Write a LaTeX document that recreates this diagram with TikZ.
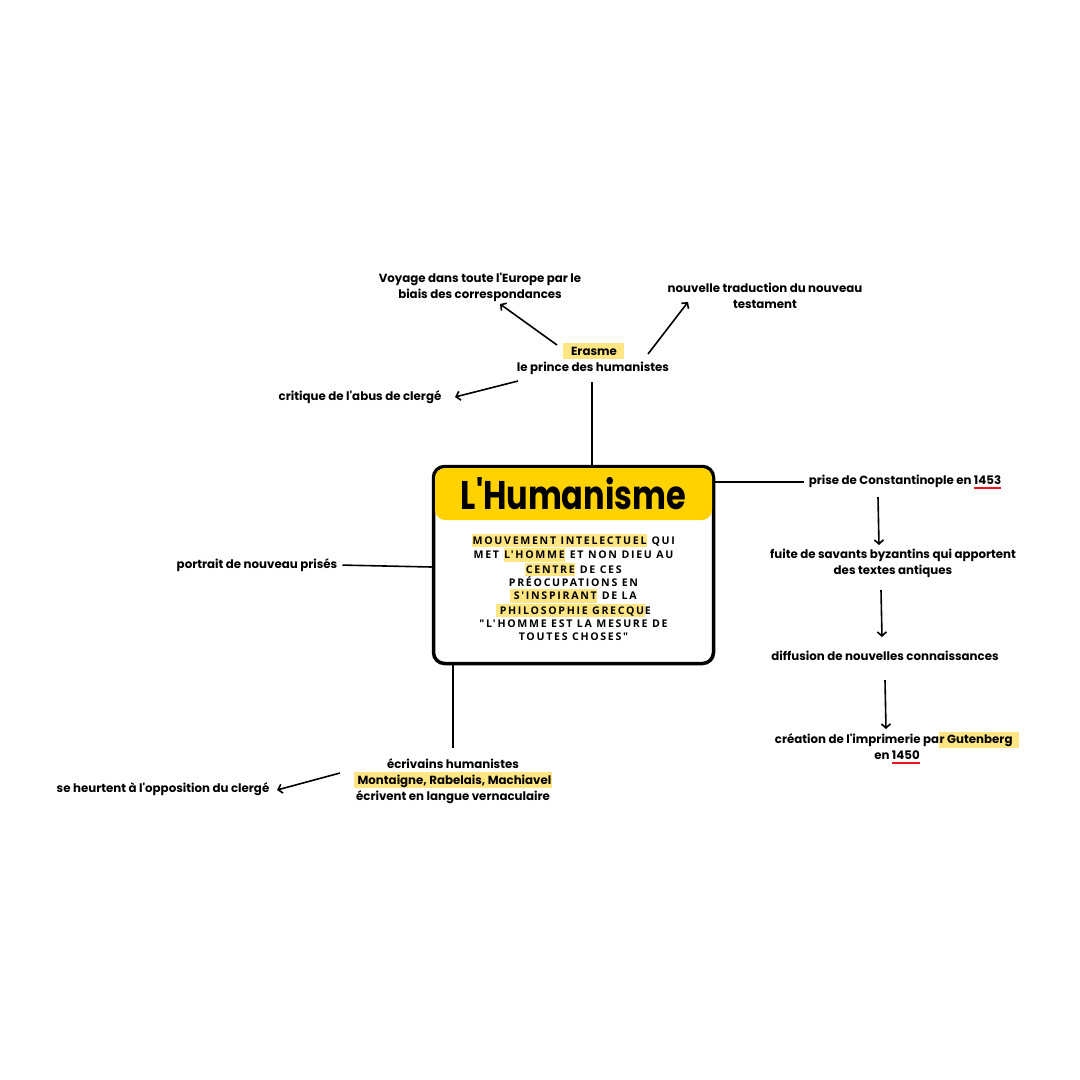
\documentclass[tikz,border=0pt]{standalone}
\usepackage{fontspec}
\usetikzlibrary{arrows.meta,calc}
\setmainfont{Poppins}[Ligatures=TeXOff]
\newfontfamily\boxfont{Open Sans}[LetterSpace=16,Ligatures=TeXOff]
\definecolor{hl}{HTML}{FFE682}
\definecolor{ttl}{HTML}{FFD200}
\definecolor{ulred}{HTML}{E8141E}
\newcommand\hlt[3][0pt]{{\setlength\fboxsep{0.6pt}\colorbox{hl}{\hspace{#1}\vphantom{Égq}#3\hspace{#2}}}}
\newcommand\rul[1]{\setbox0\hbox{#1}\rlap{\color{ulred}\rule[-4.5pt]{\wd0}{2.2pt}}#1}
\tikzset{
  lab/.style={font=\fontsize{11.8}{16}\selectfont\bfseries, align=center, inner sep=1pt},
  con/.style={line width=1.6pt, black},
  arr/.style={con, -{Straight Barb[length=4pt,width=9pt,line width=1.6pt]}},
}
\begin{document}
\begin{tikzpicture}[x=1pt,y=-1pt]
\useasboundingbox (0,0) rectangle (1080,1080);
% central box
\node[draw, line width=3.5pt, rounded corners=11pt, minimum width=280pt, minimum height=197pt, inner sep=0pt] (box) at (573.5,565) {};
\node[fill=ttl, rounded corners=10pt, minimum width=277pt, minimum height=52pt, inner sep=0pt] (head) at (573.5,494) {};
\node[font=\fontsize{40}{40}\selectfont\bfseries, xscale=0.8, transform shape, inner sep=0pt] (title) at (head.center) {L'Humanisme};
\node[font=\boxfont\fontsize{10.6}{13.1}\selectfont\bfseries, align=center, inner sep=0pt] (desc) at (573.5,587) {%
\hlt{0pt}{MOUVEMENT INTELECTUEL} QUI\\
MET \hlt{0pt}{L'HOMME} ET NON DIEU AU\\
\hlt{0pt}{CENTRE} DE CES\\
PRÉOCUPATIONS EN\\
\hlt[3pt]{0pt}{S'INSPIRANT} DE LA\\
\hlt[3pt]{0pt}{PHILOSOPHIE GRECQU}E\\
"L'HOMME EST LA MESURE DE\\
TOUTES CHOSES"};

% Erasme branch
\node[lab] (er) at (593,359) {\hlt[8pt]{6pt}{Erasme}\\le prince des humanistes};
\node[lab] (voy) at (480,287) {Voyage dans toute l'Europe par le\\biais des correspondances};
\node[lab] (nt) at (765,296) {nouvelle traduction du nouveau\\testament};
\node[lab] (crit) at (360,397) {critique de l'abus de clergé};
\coordinate (e1) at (557,345); \coordinate (v1) at (500,304);
\coordinate (e2) at (648,354); \coordinate (n1) at (688,302);
\coordinate (e3) at (518,381); \coordinate (c1) at (455,397);
\draw[con] (box.north -| 592,0) -- (592,382);
\draw[arr] (e1) -- (v1);
\draw[arr] (e2) -- (n1);
\draw[arr] (e3) -- (c1);

% right chain
\node[lab] (cst) at (905,482) {prise de Constantinople en \rul{1453}};
\node[lab] (fui) at (893,563) {fuite de savants byzantins qui apportent\\des textes antiques};
\node[lab] (dif) at (885,656) {diffusion de nouvelles connaissances};
\node[lab] (imp) at (897,748) {création de l'imprimerie pa\hlt[0pt]{6pt}{r Gutenberg}\\en \rul{1450}};
\draw[con, shorten >=4pt] (box.east |- 0,482) -- (cst.west);
\draw[arr] (878,497) -- (879,545);
\draw[arr] (881,590) -- (882,637);
\draw[arr] (885,680) -- (886,729);

% left
\node[lab] (por) at (257,565) {portrait de nouveau prisés};
\draw[con, shorten <=4pt] (por.east) -- (box.west |- 0,567);

% bottom
\node[lab] (ecr) at (453,781) {écrivains humanistes\\\hlt[3pt]{0pt}{Montaigne, Rabelais, Machiavel}\\écrivent en langue vernaculaire};
\node[lab] (heu) at (163,789) {se heurtent à l'opposition du clergé};
\draw[con] (box.south -| 453,0) -- (453,748);
\draw[arr] (340,773) -- (277,790);
\end{tikzpicture}
\end{document}
